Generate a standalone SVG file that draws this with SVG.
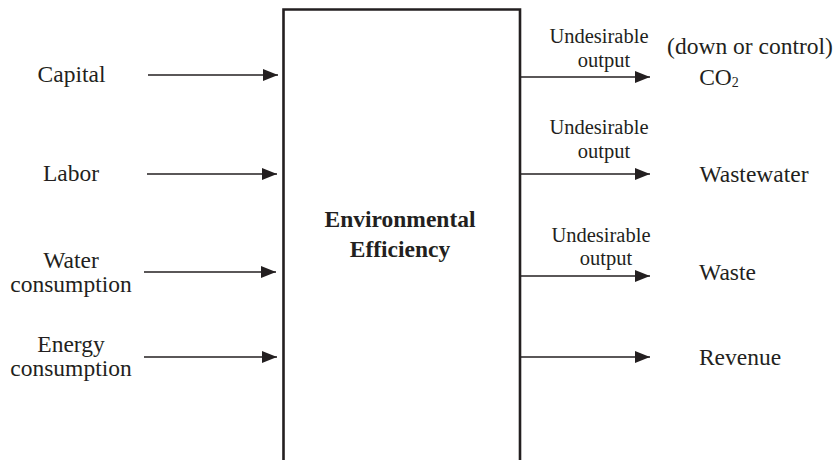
<svg xmlns="http://www.w3.org/2000/svg" width="837" height="460" viewBox="0 0 837 460">
<defs>
<marker id="ah" viewBox="0 0 15 12" refX="15" refY="6" markerWidth="15" markerHeight="12" markerUnits="userSpaceOnUse" orient="auto">
<path d="M0,0 L15,6 L0,12 Z" fill="#231f20"/>
</marker>
</defs>
<style>
text{font-family:"Liberation Serif","Times New Roman",serif;fill:#231f20;text-anchor:middle}
.l{font-size:23.5px}
.s{font-size:20.5px}
.b{font-size:23.5px;font-weight:bold}
.c{stroke:#231f20;stroke-width:1.4;fill:none;marker-end:url(#ah)}
</style>
<rect width="837" height="460" fill="#fff"/>
<g id="box">
<path d="M283.5,462 V9.5 H520 V462" fill="none" stroke="#231f20" stroke-width="2.6"/>
<text class="b" x="400" y="227">Environmental</text>
<text class="b" x="400" y="257">Efficiency</text>
</g>
<g id="capital"><text class="l" x="71.5" y="82">Capital</text></g>
<g id="labor"><text class="l" x="71" y="181">Labor</text></g>
<g id="water"><text class="l" x="71" y="268">Water</text><text class="l" x="71" y="292">consumption</text></g>
<g id="energy"><text class="l" x="71" y="352">Energy</text><text class="l" x="71" y="376">consumption</text></g>
<g id="co2"><text class="l" x="750" y="54">(down or control)</text><text class="l" x="719" y="85">CO<tspan font-size="14" dy="2">2</tspan></text></g>
<g id="wastewater"><text class="l" x="754" y="182">Wastewater</text></g>
<g id="waste"><text class="l" x="727.5" y="280">Waste</text></g>
<g id="revenue"><text class="l" x="740" y="365">Revenue</text></g>
<g id="labels">
<text class="s" x="599" y="43">Undesirable</text><text class="s" x="604" y="67">output</text>
<text class="s" x="599" y="134">Undesirable</text><text class="s" x="604" y="158">output</text>
<text class="s" x="601" y="242">Undesirable</text><text class="s" x="606" y="265">output</text>
</g>
<g id="connectors">
<line class="c" x1="148" y1="75" x2="278" y2="75"/>
<line class="c" x1="147" y1="174" x2="277" y2="174"/>
<line class="c" x1="144" y1="272" x2="276" y2="272"/>
<line class="c" x1="144" y1="357" x2="277" y2="357"/>
<line class="c" x1="521" y1="77" x2="650" y2="77"/>
<line class="c" x1="521" y1="174" x2="650" y2="174"/>
<line class="c" x1="521" y1="276" x2="650" y2="276"/>
<line class="c" x1="521" y1="357" x2="650" y2="357"/>
</g>
</svg>
